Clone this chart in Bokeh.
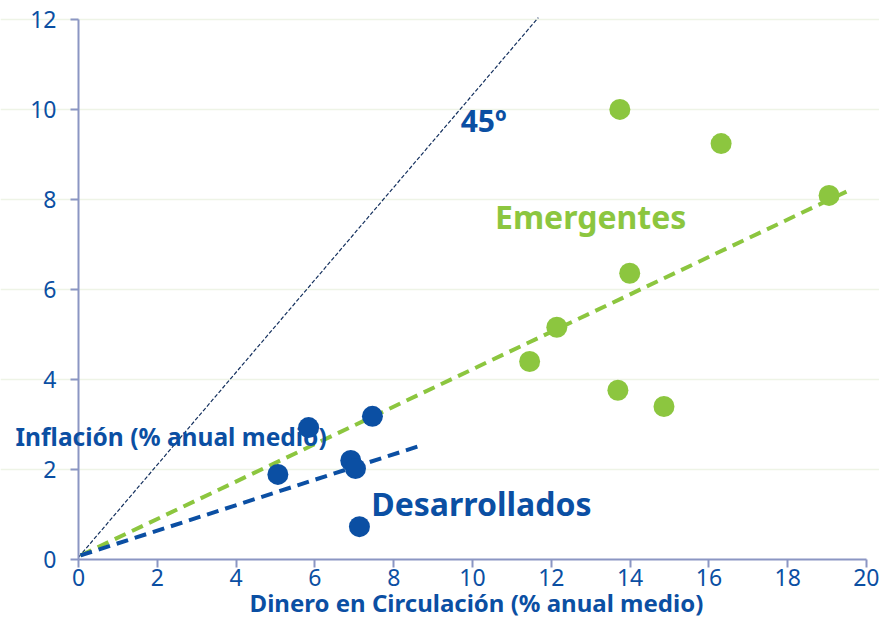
from bokeh.plotting import figure
from bokeh.models import Label, FixedTicker, Range1d
from bokeh.embed import file_html
from bokeh.resources import INLINE

# Data
des_x = [5.84, 7.46, 5.06, 6.91, 7.03, 7.13]
des_y = [2.93, 3.18, 1.89, 2.20, 2.02, 0.73]
emg_x = [13.74, 16.31, 19.05, 13.99, 12.14, 11.45, 13.69, 14.86]
emg_y = [10.00, 9.24, 8.09, 6.36, 5.16, 4.40, 3.76, 3.40]
trend_emg_x = [0.05, 19.65]
trend_emg_y = [0.09, 8.24]
trend_des_x = [0.05, 8.68]
trend_des_y = [0.09, 2.53]
line45_x = [0.0, 11.67]
line45_y = [0.05, 12.04]
x_ticks = [0, 2, 4, 6, 8, 10, 12, 14, 16, 18, 20]
y_ticks = [0, 2, 4, 6, 8, 10, 12]

BLUE = "#0b4fa3"
GREEN = "#8cc63f"
AXIS = "#8b96c3"
FONT = "Noto Sans"

p = figure(width=879, height=622, output_backend="svg", toolbar_location=None,
           x_range=Range1d(-1.98, 20.33), y_range=Range1d(-1.4, 12.42),
           min_border_left=0, min_border_right=0, min_border_top=0, min_border_bottom=0)
p.outline_line_color = None
p.background_fill_color = "white"
p.border_fill_color = "white"

p.xgrid.grid_line_color = None
p.ygrid.grid_line_color = "#eef4e6"
p.ygrid.grid_line_width = 1.5
p.ygrid.ticker = FixedTicker(ticks=y_ticks[1:])
p.ygrid.bounds = (0, 20)

for ax in (p.xaxis[0], p.yaxis[0]):
    ax.axis_line_color = AXIS
    ax.axis_line_width = 2
    ax.major_tick_line_color = AXIS
    ax.major_tick_line_width = 2
    ax.major_tick_out = 8
    ax.major_tick_in = 0
    ax.minor_tick_line_color = None
    ax.major_label_text_font = FONT
    ax.major_label_text_font_size = "23px"
    ax.major_label_text_color = BLUE

p.xaxis.ticker = FixedTicker(ticks=x_ticks)
p.yaxis.ticker = FixedTicker(ticks=y_ticks)
p.xaxis.bounds = (0, 20)
p.yaxis.bounds = (0, 12)
p.xaxis.fixed_location = 0
p.yaxis.fixed_location = 0
p.xaxis.major_label_standoff = 2
p.yaxis.major_label_standoff = 14

# lines
p.line(line45_x, line45_y, line_color="#14305e", line_width=1.2, line_dash="4 2")
p.line(trend_emg_x, trend_emg_y, line_color=GREEN, line_width=4, line_dash="12 7")
p.line(trend_des_x, trend_des_y, line_color=BLUE, line_width=4, line_dash="12 7")

# points
p.scatter(emg_x, emg_y, size=21, fill_color=GREEN, line_color=None)
p.scatter(des_x, des_y, size=21, fill_color=BLUE, line_color=None)

# labels
p.add_layout(Label(x=9.7, y=9.76, text="45º", text_font=FONT, text_font_size="30px",
                   text_font_style="bold", text_color=BLUE, text_baseline="middle"))
p.add_layout(Label(x=10.57, y=7.62, text="Emergentes", text_font=FONT, text_font_size="32px",
                   text_font_style="bold", text_color=GREEN, text_baseline="middle"))
p.add_layout(Label(x=7.43, y=1.24, text="Desarrollados", text_font=FONT, text_font_size="32px",
                   text_font_style="bold", text_color=BLUE, text_baseline="middle"))
p.add_layout(Label(x=-1.6, y=2.73, text="Inflación (% anual medio)",
                   text_font=FONT, text_font_size="24.5px", text_font_style="bold",
                   text_color=BLUE, text_baseline="middle"))
p.add_layout(Label(x=10.1, y=-0.96, text="Dinero en Circulación (% anual medio)",
                   text_font=FONT, text_font_size="24px", text_font_style="bold",
                   text_color=BLUE, text_baseline="middle", text_align="center"))

open("out.html", "w").write(file_html(p, INLINE))
